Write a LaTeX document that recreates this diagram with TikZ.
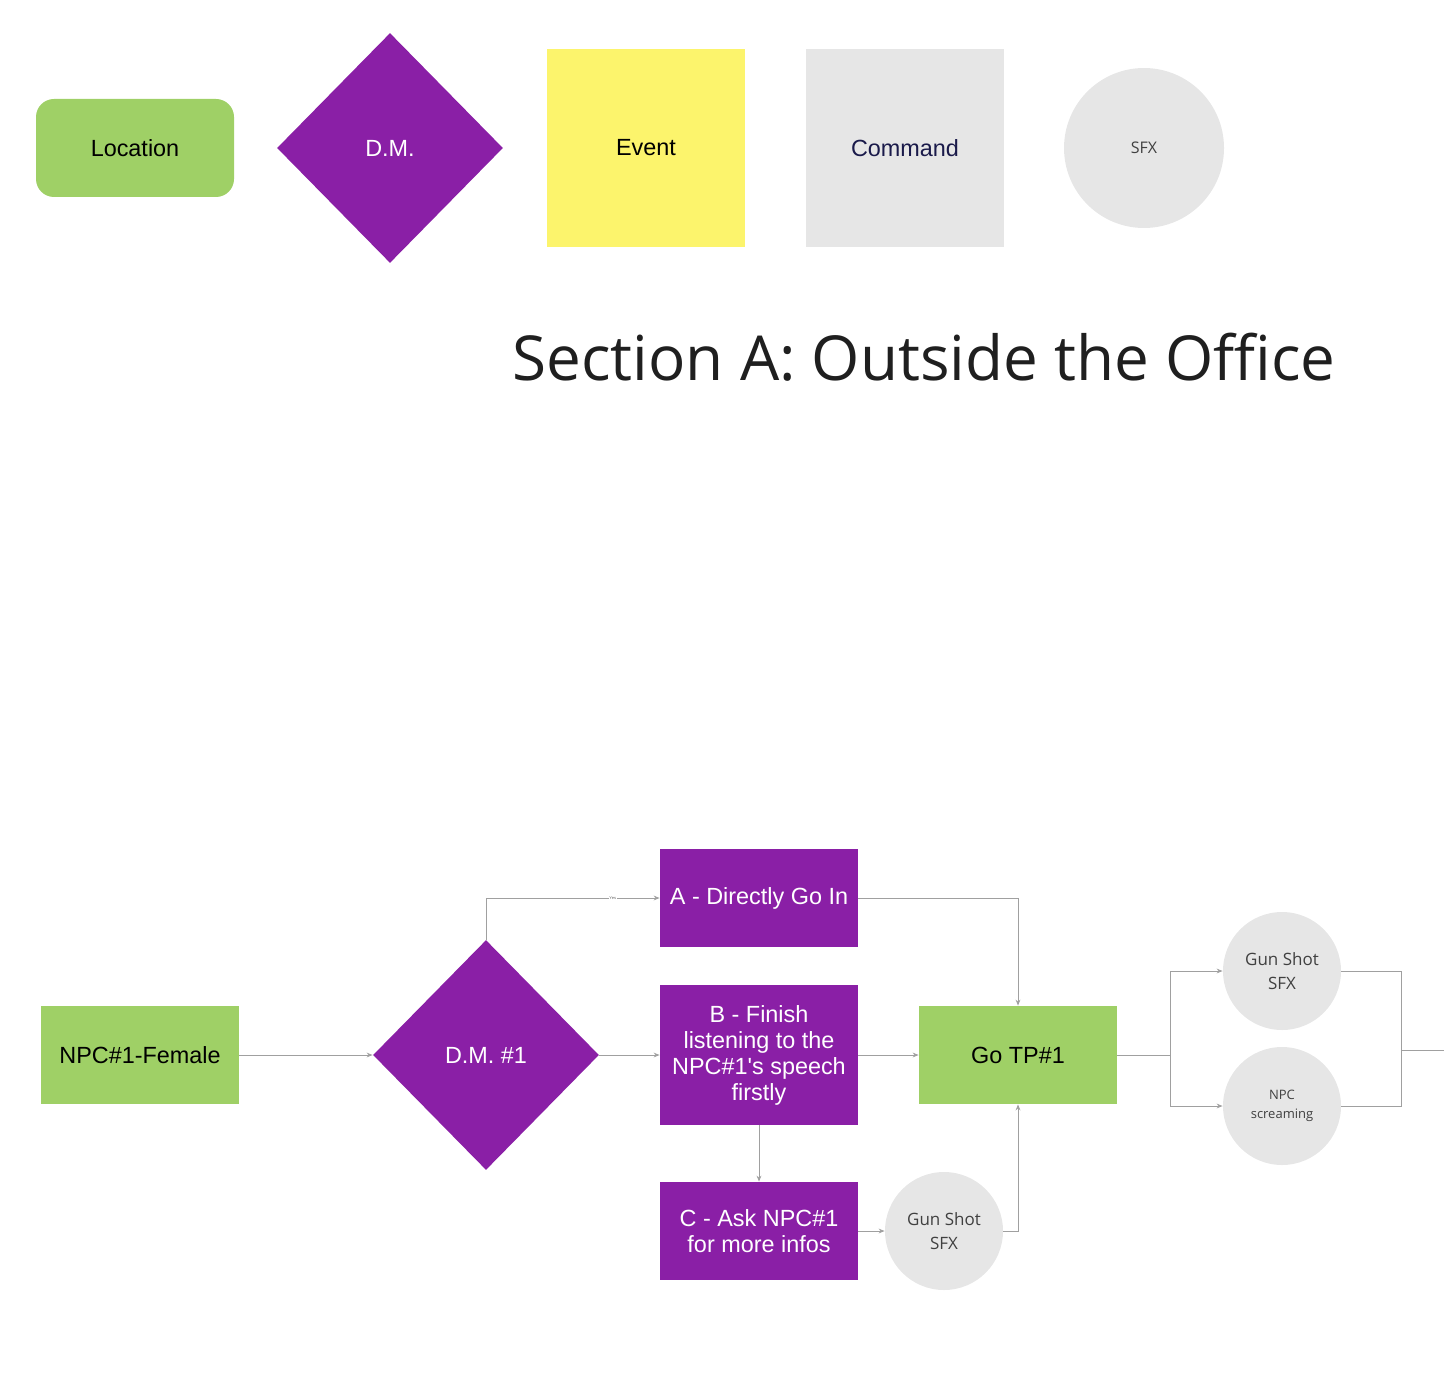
\documentclass[tikz,border=0pt]{standalone}
\usepackage{fontspec}
\setmainfont{Liberation Sans}[Ligatures=TeXOff]
\newfontfamily\opensans{Open Sans}
\usetikzlibrary{shapes.geometric,arrows.meta}
\definecolor{cgreen}{HTML}{9FD066}
\definecolor{cpurple}{HTML}{8A1FA6}
\definecolor{cyellow}{HTML}{FCF46C}
\definecolor{cgray}{HTML}{E6E6E6}
\definecolor{cline}{HTML}{A0A0A0}
\definecolor{cnavy}{HTML}{1A1A4A}
\tikzset{
  box/.style={rectangle, minimum width=99pt, minimum height=49pt, inner sep=2pt, align=center, font=\fontsize{11.7pt}{13pt}\selectfont},
  greenbox/.style={box, fill=cgreen, text=black},
  purplebox/.style={box, fill=cpurple, text=white},
  dmshape/.style={diamond, fill=cpurple, text=white, minimum width=113pt, minimum height=115pt, inner sep=0pt, font=\fontsize{11.7pt}{13pt}\selectfont},
  sfx/.style={circle, fill=cgray, text=black!75, inner sep=0pt, align=center},
  conn/.style={draw=cline, line width=0.5pt},
  arr/.style={conn, -{Stealth[length=3pt,width=2.4pt]}},
}
\begin{document}
\begin{tikzpicture}[x=0.5pt,y=-0.5pt]
\useasboundingbox (0,0) rectangle (1444,1396);
% legend
\node[greenbox, rounded corners=9pt] (loc) at (135,148) {Location};
\node[dmshape] (dm) at (390,148) {D.M.};
\node[box, fill=cyellow, minimum height=99pt] (ev) at (646,148) {Event};
\node[box, fill=cgray, text=cnavy, minimum height=99pt] (cmd) at (905,148) {Command};
\node[sfx, minimum size=80pt, font=\opensans\fontsize{8pt}{10pt}\selectfont] (sfx) at (1144,148) {SFX};
% title
\node[font=\opensans\fontsize{31pt}{36pt}\selectfont, text=black!88, inner sep=0pt] (title) at (924,357) {Section A: Outside the Office};
% flow
\node[greenbox] (npc) at (140,1055) {NPC\#1-Female};
\node[dmshape] (dm1) at (486,1055) {D.M. \#1};
\node[purplebox] (a) at (759,898) {A - Directly Go In};
\node[purplebox, minimum height=70pt] (b) at (759,1055) {B - Finish\\listening to the\\NPC\#1's speech\\firstly};
\node[purplebox] (c) at (759,1231) {C - Ask NPC\#1\\for more infos};
\node[greenbox] (go) at (1018,1055) {Go TP\#1};
\node[sfx, minimum size=59pt, font=\opensans\fontsize{8.5pt}{12pt}\selectfont] (gs1) at (944,1231) {Gun Shot\\SFX};
\node[sfx, minimum size=59pt, font=\opensans\fontsize{8.5pt}{12pt}\selectfont] (gs2) at (1282,971) {Gun Shot\\SFX};
\node[sfx, minimum size=59pt, font=\opensans\fontsize{6.5pt}{9.5pt}\selectfont] (scr) at (1282,1106) {NPC\\screaming};
\coordinate (split) at (1170,1055);
\coordinate (join) at (1401,1050);
\coordinate (out) at (1444,1050);
% connectors
\draw[arr] (npc.east) -- (dm1.west);
\draw[arr] (dm1.north) |- node[pos=0.865, font=\fontsize{2pt}{2pt}\selectfont, text=black!60, fill=white, inner sep=0.3pt] {Yes} (a.west);
\draw[arr] (dm1.east) -- (b.west);
\draw[arr] (a.east) -| (go.north);
\draw[arr] (b.east) -- (go.west);
\draw[arr] (b.south) -- (c.north);
\draw[arr] (c.east) -- (gs1.west);
\draw[arr] (gs1.east) -| (go.south);
\draw[conn] (go.east) -- (split);
\draw[arr] (split) |- (gs2.west);
\draw[arr] (split) |- (scr.west);
\draw[conn] (gs2.east) -| (join);
\draw[conn] (scr.east) -| (join);
\draw[conn] (join) -- (out);
\end{tikzpicture}
\end{document}
